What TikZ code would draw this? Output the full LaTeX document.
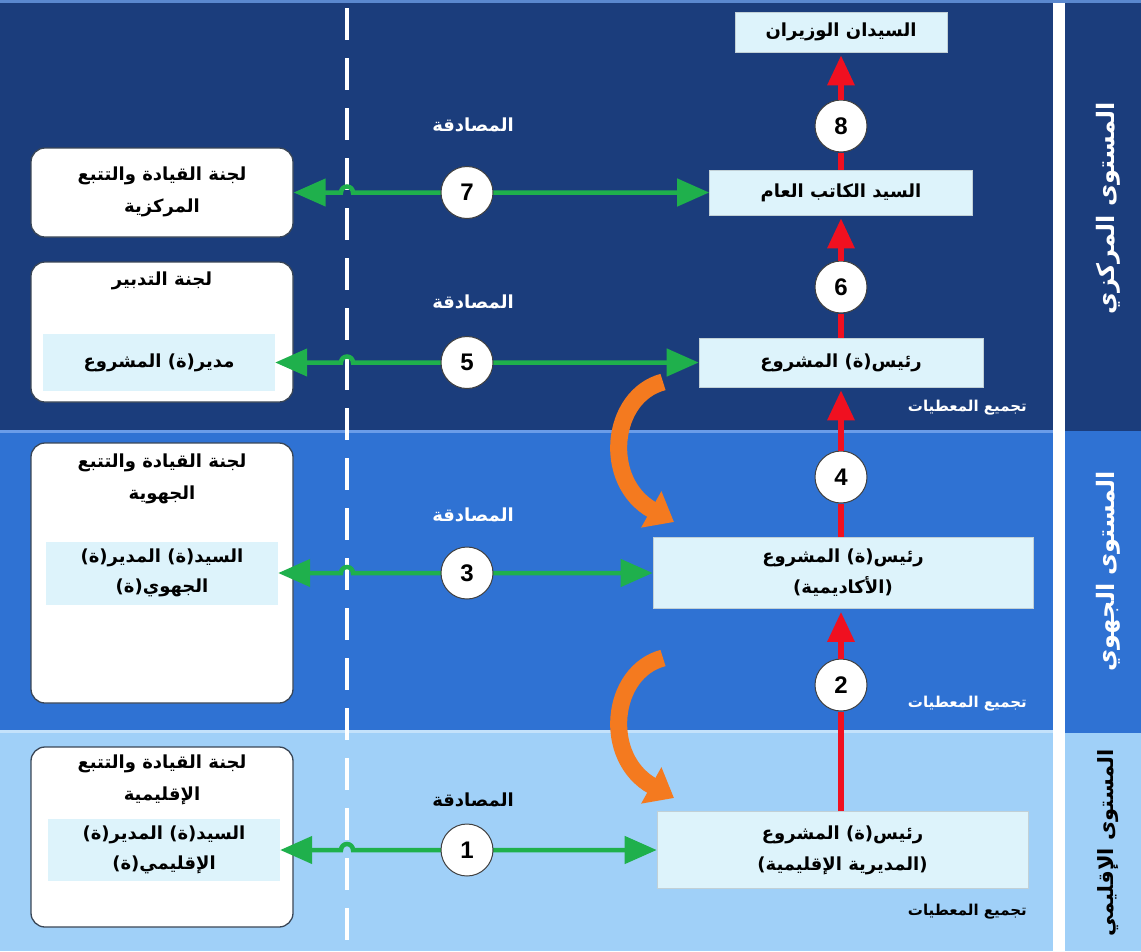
\documentclass[tikz,border=0pt]{standalone}
\usepackage{fontspec}
\usetikzlibrary{arrows.meta}
\TeXXeTstate=1
\newfontfamily\arf[Script=Arabic]{DejaVu Sans}
\newfontfamily\numf{Liberation Sans}
\newcommand{\arl}[1]{\beginR#1\endR}
\definecolor{navy}{HTML}{1B3D7C}
\definecolor{midblue}{HTML}{2F72D3}
\definecolor{lightblue}{HTML}{A0D0F8}
\definecolor{boxfill}{HTML}{DDF3FB}
\definecolor{grn}{HTML}{1FB04C}
\definecolor{redarr}{HTML}{F01020}
\definecolor{orng}{HTML}{F47A1F}
\definecolor{lineA}{HTML}{6A9CE8}
\definecolor{lineB}{HTML}{C4E2FB}
\definecolor{topline}{HTML}{5A88CF}
\definecolor{lboxborder}{HTML}{3A4656}
\begin{document}
\begin{tikzpicture}[x=1pt,y=-1pt,
  rbox/.style={rectangle, fill=boxfill, draw=boxfill!70!gray, line width=0.6pt, inner sep=2pt,
    font=\arf\bfseries\fontsize{18}{31}\selectfont, align=center, text=black},
  lbox/.style={rectangle, rounded corners=14pt, fill=white, draw=lboxborder, line width=1.3pt,
    minimum width=262pt, inner sep=0pt},
  ibox/.style={rectangle, fill=boxfill, draw=none, minimum width=232pt, inner sep=2pt,
    font=\arf\bfseries\fontsize{18}{30}\selectfont, align=center, text=black},
  ltxt/.style={font=\arf\bfseries\fontsize{18}{32}\selectfont, align=center, text=black, inner sep=1pt},
  num/.style={circle, fill=white, draw=black!75, line width=1pt, minimum size=52pt, inner sep=0pt,
    font=\numf\bfseries\fontsize{24}{24}\selectfont},
  garrow/.style={draw=grn, line width=4.5pt,
    {Triangle[length=32pt,width=27pt]}-{Triangle[length=32pt,width=27pt]}},
  rline/.style={draw=redarr, line width=6pt},
  rarrow/.style={draw=redarr, line width=6pt, -{Triangle[length=30pt,width=26pt]}, shorten >=3pt},
  oarrow/.style={draw=orng, line width=17pt, -{Triangle[length=26pt,width=40pt]}},
  mlabel/.style={font=\arf\bfseries\fontsize{18}{22}\selectfont, inner sep=1pt},
  dlabel/.style={font=\arf\bfseries\fontsize{15}{18}\selectfont, inner sep=1pt, anchor=east},
  vlabel/.style={font=\arf\bfseries\fontsize{24}{28}\selectfont, rotate=90, inner sep=1pt}
]
\useasboundingbox (0,0) rectangle (1141,951);
% bands
\fill[navy] (0,0) rectangle (1053,431);
\fill[midblue] (0,431) rectangle (1053,731);
\fill[lightblue] (0,731) rectangle (1053,951);
\fill[white] (1053,0) rectangle (1065,951);
\fill[navy] (1065,0) rectangle (1141,431);
\fill[midblue] (1065,431) rectangle (1141,733);
\fill[lightblue] (1065,733) rectangle (1141,951);
\draw[lineA, line width=2.5pt] (0,431.5) -- (1053,431.5);
\draw[lineB, line width=2.5pt] (0,731.5) -- (1053,731.5);
\draw[topline, line width=3pt] (0,1.5) -- (1141,1.5);
% dashed separator
\draw[white, line width=4pt, dash pattern=on 32pt off 18pt] (347,8) -- (347,948);
\coordinate (hop) at (341,0);

% right column boxes
\node[rbox, minimum width=212pt, minimum height=40pt] (wazir) at (841,32) {\arl{السيدان الوزيران}};
\node[rbox, minimum width=263pt, minimum height=45pt] (katib) at (841,192.5) {\arl{السيد الكاتب العام}};
\node[rbox, minimum width=284pt, minimum height=49pt] (rais) at (841,362.5) {\arl{رئيس(ة) المشروع}};
\node[rbox, minimum width=380pt, minimum height=71pt] (acad) at (843,573) {\arl{رئيس(ة) المشروع}\\\arl{(الأكاديمية)}};
\node[rbox, minimum width=371pt, minimum height=77pt] (prov) at (842.5,850) {\arl{رئيس(ة) المشروع}\\\arl{(المديرية الإقليمية)}};

% left boxes
\node[lbox, minimum height=89pt] (lA) at (162,192.5) {};
\node[ltxt] (lAt) at (162,192) {\arl{لجنة القيادة والتتبع}\\\arl{المركزية}};
\node[lbox, minimum height=140pt] (lB) at (162,332) {};
\node[ltxt] (lBt) at (162,281) {\arl{لجنة التدبير}};
\node[ibox, minimum height=57pt] (mudir) at (159,362.5) {\arl{مدير(ة) المشروع}};
\node[lbox, minimum height=260pt] (lC) at (162,573) {};
\node[ltxt] (lCt) at (162,479) {\arl{لجنة القيادة والتتبع}\\\arl{الجهوية}};
\node[ibox, minimum height=63pt] (jahawi) at (162,573) {\arl{السيد(ة) المدير(ة)}\\\arl{الجهوي(ة)}};
\node[lbox, minimum height=180pt] (lD) at (162,837) {};
\node[ltxt] (lDt) at (162,780) {\arl{لجنة القيادة والتتبع}\\\arl{الإقليمية}};
\node[ibox, minimum height=62pt] (iqlimi) at (164,850) {\arl{السيد(ة) المدير(ة)}\\\arl{الإقليمي(ة)}};

% green validation arrows
\draw[garrow] (lA.east) -- (hop |- lA.east) arc(180:0:6pt) -- (katib.west);
\draw[garrow] (mudir.east) -- (hop |- mudir.east) arc(180:0:6pt) -- (rais.west);
\draw[garrow] (jahawi.east) -- (hop |- jahawi.east) arc(180:0:6pt) -- (acad.west);
\draw[garrow] (iqlimi.east) -- (hop |- iqlimi.east) arc(180:0:6pt) -- (prov.west);

% numbered circles
\node[num] (c7) at (467,192.5) {7};
\node[num] (c5) at (467,362.5) {5};
\node[num] (c3) at (467,573) {3};
\node[num] (c1) at (467,850) {1};
\node[num] (c8) at (841,126) {8};
\node[num] (c6) at (841,287) {6};
\node[num] (c4) at (841,477) {4};
\node[num] (c2) at (841,685) {2};

% red upward flow
\draw[rline] (prov.north -| c2) -- (c2.south);
\draw[rarrow] (c2.north) -- (acad.south -| c2);
\draw[rline] (acad.north -| c4) -- (c4.south);
\draw[rarrow] (c4.north) -- (rais.south -| c4);
\draw[rline] (rais.north -| c6) -- (c6.south);
\draw[rarrow] (c6.north) -- (katib.south -| c6);
\draw[rline] (katib.north -| c8) -- (c8.south);
\draw[rarrow] (c8.north) -- (wazir.south -| c8);

% orange curved arrows
\coordinate (o1s) at (663,382);
\coordinate (o1e) at (674,522);
\coordinate (o2s) at (663,658);
\coordinate (o2e) at (674,798);
\draw[oarrow] (o1s) .. controls (610,396) and (602,482) .. (o1e);
\draw[oarrow] (o2s) .. controls (610,672) and (602,758) .. (o2e);

% labels
\node[mlabel, text=white] (m7) at (473,125) {\arl{المصادقة}};
\node[mlabel, text=white] (m5) at (473,302) {\arl{المصادقة}};
\node[mlabel, text=white] (m3) at (473,515) {\arl{المصادقة}};
\node[mlabel, text=black] (m1) at (473,800) {\arl{المصادقة}};
\node[dlabel, text=white] (d1) at (1028,408) {\arl{تجميع المعطيات}};
\node[dlabel, text=white] (d2) at (1028,704) {\arl{تجميع المعطيات}};
\node[dlabel, text=black] (d3) at (1028,912) {\arl{تجميع المعطيات}};
\node[vlabel, text=white] (v1) at (1108,208) {\arl{المستوى المركزي}};
\node[vlabel, text=white] (v2) at (1108,571) {\arl{المستوى الجهوي}};
\node[vlabel, text=black, font=\arf\bfseries\fontsize{21}{25}\selectfont] (v3) at (1108,843) {\arl{المستوى الإقليمي}};
\end{tikzpicture}
\end{document}
